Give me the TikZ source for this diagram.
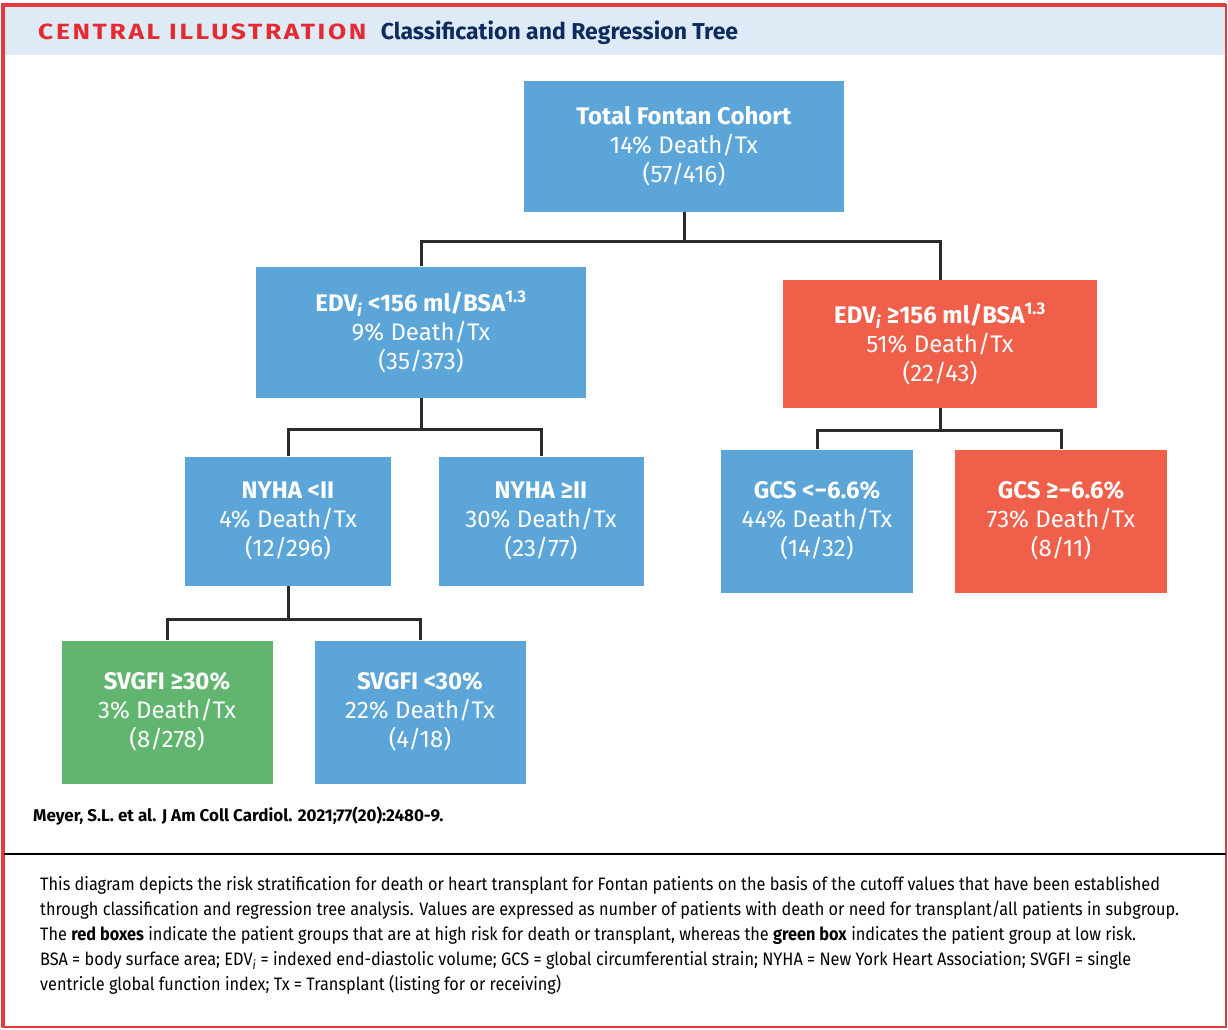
\documentclass[tikz,border=0pt]{standalone}
\usepackage{fontspec}
\setmainfont{Fira Sans}
\newfontfamily\capsfont{Fira Sans}[LetterSpace=12,FakeStretch=1.2]
\newfontfamily\notefont{Fira Sans}[FakeStretch=0.905]
\usepackage{xcolor}
\usetikzlibrary{positioning}
\definecolor{cartblue}{HTML}{5BA5D9}
\definecolor{cartred}{HTML}{F05F4A}
\definecolor{cartgreen}{HTML}{62B56F}
\definecolor{headband}{HTML}{DEEAF6}
\definecolor{jaccred}{HTML}{E42B31}
\definecolor{jaccnavy}{HTML}{0D2B5C}
\definecolor{framered}{HTML}{E33A3E}
\definecolor{branchgray}{HTML}{2B2B2B}
\tikzset{leaf/.style={inner sep=0pt,align=center,text=white,
        font=\fontsize{24}{29}\selectfont},
    blue leaf/.style={leaf,fill=cartblue},
    red leaf/.style={leaf,fill=cartred},
    green leaf/.style={leaf,fill=cartgreen},
    branch/.style={draw=branchgray,line width=3pt}}

\begin{document}
\begin{tikzpicture}[x=1pt,y=-1pt]
    \useasboundingbox (0,0) rectangle (1228,1029);
    \fill[white] (0,0) rectangle (1228,1029);
    \fill[headband] (4,6) rectangle (1226,55);
    \draw[framered,line width=2pt] (3,5) rectangle (1226,1027);
    \draw[framered,line width=4pt] (3,1027) -- (3,5) -- (1226,5);
    \node[anchor=base west,inner sep=0pt,text=jaccred,font=\capsfont\fontsize{22}{25}\selectfont\bfseries]
        (central) at (38,39) {CENTRAL ILLUSTRATION};
    \node[inner sep=0pt,text=jaccnavy,right=14pt of central.base east,anchor=base west,
        font=\fontsize{23}{25}\selectfont\bfseries] (title) {Classification and Regression Tree};

    \node[blue leaf,minimum width=320,minimum height=131] (total) at (684,146)
        {\textbf{Total Fontan Cohort}\\14\% Death/Tx\\(57/416)};
    \node[blue leaf,minimum width=330,minimum height=131] (edvlo) at (421,332)
        {\textbf{EDV\textsubscript{\itshape i} <156 ml/BSA\textsuperscript{1.3}}\\9\% Death/Tx\\(35/373)};
    \node[red leaf,minimum width=314,minimum height=128] (edvhi) at (940,344)
        {\textbf{EDV\textsubscript{\itshape i} ≥156 ml/BSA\textsuperscript{1.3}}\\51\% Death/Tx\\(22/43)};
    \node[blue leaf,minimum width=206,minimum height=129] (nyhalo) at (288,521)
        {\textbf{NYHA <II}\\4\% Death/Tx\\(12/296)};
    \node[blue leaf,minimum width=205,minimum height=129] (nyhahi) at (541,521)
        {\textbf{NYHA ≥II}\\30\% Death/Tx\\(23/77)};
    \node[blue leaf,minimum width=192,minimum height=143] (gcslo) at (817,521)
        {\textbf{GCS <−6.6\%}\\44\% Death/Tx\\(14/32)};
    \node[red leaf,minimum width=212,minimum height=143] (gcshi) at (1061,521)
        {\textbf{GCS ≥−6.6\%}\\73\% Death/Tx\\(8/11)};
    \node[green leaf,minimum width=211,minimum height=143] (svgfihi) at (167,712)
        {\textbf{SVGFI ≥30\%}\\3\% Death/Tx\\(8/278)};
    \node[blue leaf,minimum width=211,minimum height=143] (svgfilo) at (420,712)
        {\textbf{SVGFI <30\%}\\22\% Death/Tx\\(4/18)};

    \draw[branch] (total.south) -- ++(0,30) coordinate (split1);
    \draw[branch] (edvlo.north) |- (split1) -| (edvhi.north);
    \draw[branch] (edvlo.south) -- ++(0,32) coordinate (split2);
    \draw[branch] (nyhalo.north) |- (split2) -| (nyhahi.north);
    \draw[branch] (edvhi.south) -- ++(0,22) coordinate (split3);
    \draw[branch] (gcslo.north) |- (split3) -| (gcshi.north);
    \draw[branch] (nyhalo.south) -- ++(0,34) coordinate (split4);
    \draw[branch] (svgfihi.north) |- (split4) -| (svgfilo.north);

    \node[anchor=base west,inner sep=0pt,font=\fontsize{17}{20}\selectfont\bfseries] (cite) at (33,821)
        {Meyer, S.L. et al. J Am Coll Cardiol. 2021;77(20):2480-9.};
    \draw[black,line width=2.5pt] (4,854) -- (1226,854);
    \node[anchor=north west,inner sep=0pt,align=left,font=\notefont\fontsize{18}{25}\selectfont] (legend) at (40,876)
        {This diagram depicts the risk stratification for death or heart transplant for Fontan patients on the basis of the cutoff values that have been established\\
        through classification and regression tree analysis. Values are expressed as number of patients with death or need for transplant/all patients in subgroup.\\
        The \textbf{red boxes} indicate the patient groups that are at high risk for death or transplant, whereas the \textbf{green box} indicates the patient group at low risk.\\
        BSA = body surface area; EDV\textsubscript{\itshape i} = indexed end-diastolic volume; GCS = global circumferential strain; NYHA = New York Heart Association; SVGFI = single\\
        ventricle global function index; Tx = Transplant (listing for or receiving)};
\end{tikzpicture}
\end{document}
